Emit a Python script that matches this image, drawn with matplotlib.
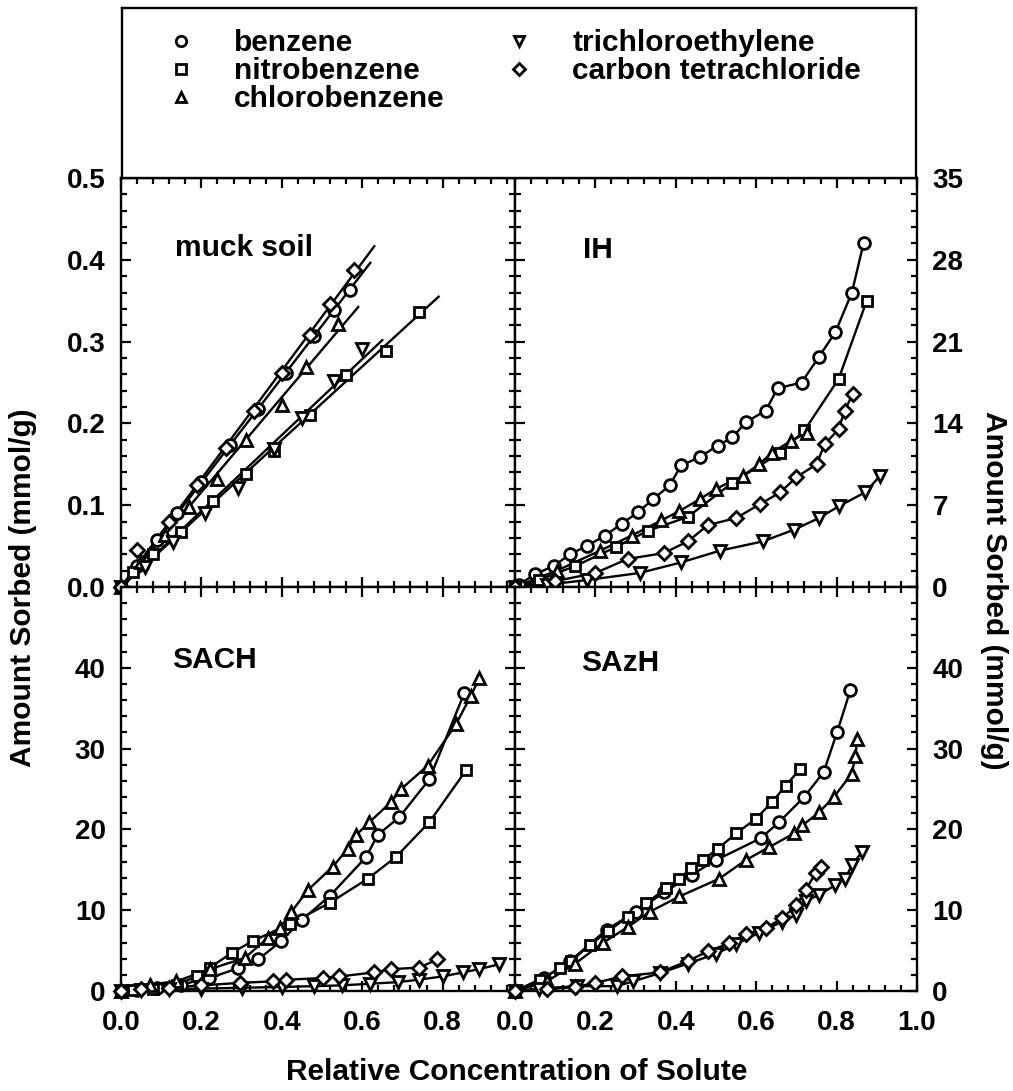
"""
sorption isotherms on muck soil and humic fractions, four panels with shared legend
outputs: out.png
"""

import numpy as np
import matplotlib.pyplot as plt
from matplotlib.lines import Line2D
from matplotlib.ticker import MultipleLocator, FixedLocator, FixedFormatter


# -- DATA (relative concentration, amount sorbed) --
compounds = ["benzene", "nitrobenzene", "chlorobenzene",
             "trichloroethylene", "carbon tetrachloride"]
markers = {"benzene": "o", "nitrobenzene": "s", "chlorobenzene": "^",
           "trichloroethylene": "v", "carbon tetrachloride": "D"}

# muck soil, mmol/g
muck_benzene_x = [0, 0.04, 0.09, 0.14, 0.20, 0.27, 0.34, 0.41, 0.48, 0.53, 0.57]
muck_benzene_y = [0, 0.026, 0.058, 0.090, 0.128, 0.173, 0.218, 0.262, 0.307, 0.339, 0.363]
muck_nitro_x = [0, 0.03, 0.08, 0.15, 0.23, 0.31, 0.38, 0.47, 0.56, 0.66, 0.74]
muck_nitro_y = [0, 0.018, 0.040, 0.067, 0.105, 0.138, 0.166, 0.210, 0.259, 0.289, 0.336]
muck_chloro_x = [0, 0.05, 0.11, 0.17, 0.24, 0.31, 0.40, 0.46, 0.54]
muck_chloro_y = [0, 0.030, 0.064, 0.098, 0.132, 0.180, 0.222, 0.269, 0.322]
muck_tce_x = [0, 0.06, 0.13, 0.21, 0.29, 0.38, 0.45, 0.53, 0.60]
muck_tce_y = [0, 0.025, 0.055, 0.090, 0.121, 0.169, 0.206, 0.252, 0.291]
muck_ct_x = [0, 0.04, 0.12, 0.19, 0.26, 0.33, 0.40, 0.47, 0.52, 0.58]
muck_ct_y = [0, 0.045, 0.080, 0.125, 0.170, 0.215, 0.262, 0.308, 0.346, 0.387]

# IH
ih_benzene_x = [0, 0.01, 0.05, 0.096, 0.137, 0.178, 0.224, 0.265, 0.306, 0.343, 0.385,
                0.413, 0.459, 0.504, 0.541, 0.574, 0.624, 0.653, 0.713, 0.756, 0.797,
                0.838, 0.867]
ih_benzene_y = [0, 0.2, 1.1, 1.8, 2.8, 3.5, 4.4, 5.4, 6.4, 7.5, 8.7, 10.4, 11.1, 12.1,
                12.8, 14.1, 15.1, 17.0, 17.5, 19.7, 21.8, 25.2, 29.4]
ih_nitro_x = [0, 0.06, 0.15, 0.25, 0.33, 0.43, 0.54, 0.66, 0.72, 0.805, 0.875]
ih_nitro_y = [0, 0.6, 1.8, 3.4, 4.8, 6.0, 8.9, 11.5, 13.4, 17.8, 24.5]
ih_chloro_x = [0, 0.104, 0.211, 0.290, 0.364, 0.409, 0.459, 0.500, 0.566, 0.607, 0.640,
               0.686, 0.727]
ih_chloro_y = [0, 1.4, 3.1, 4.4, 5.7, 6.5, 7.5, 8.4, 9.5, 10.5, 11.5, 12.5, 13.2]
ih_tce_x = [0, 0.08, 0.18, 0.31, 0.413, 0.509, 0.616, 0.694, 0.756, 0.805, 0.871, 0.908]
ih_tce_y = [0, 0.2, 0.6, 1.2, 2.1, 3.1, 3.9, 4.9, 5.9, 6.9, 8.1, 9.5]
ih_ct_x = [0, 0.10, 0.20, 0.28, 0.37, 0.43, 0.48, 0.55, 0.61, 0.66, 0.70, 0.75, 0.77,
           0.805, 0.82, 0.84]
ih_ct_y = [0, 0.5, 1.2, 2.4, 2.9, 3.9, 5.3, 5.9, 7.1, 8.1, 9.4, 10.5, 12.2, 13.5, 15.1, 16.5]

# SACH
sach_benzene_x = [0, 0.04, 0.09, 0.15, 0.22, 0.29, 0.341, 0.399, 0.45, 0.52, 0.610,
                  0.638, 0.692, 0.767, 0.854]
sach_benzene_y = [0, 0.1, 0.4, 0.8, 1.6, 2.8, 3.9, 6.2, 8.8, 11.8, 16.6, 19.3, 21.5,
                  26.2, 36.9]
sach_nitro_x = [0, 0.03, 0.08, 0.14, 0.188, 0.221, 0.275, 0.328, 0.42, 0.519, 0.614,
                0.684, 0.767, 0.858]
sach_nitro_y = [0, 0.1, 0.3, 0.8, 1.8, 2.9, 4.7, 6.2, 8.3, 10.9, 13.9, 16.6, 20.9, 27.3]
sach_chloro_x = [0, 0.072, 0.138, 0.221, 0.308, 0.366, 0.395, 0.424, 0.465, 0.527,
                 0.564, 0.585, 0.618, 0.672, 0.697, 0.763, 0.833, 0.870, 0.891]
sach_chloro_y = [0, 0.8, 1.2, 2.7, 4.1, 6.6, 7.8, 9.8, 12.5, 15.4, 17.6, 19.3, 20.9,
                 23.4, 25.0, 27.9, 33.0, 36.5, 38.7]
sach_tce_x = [0, 0.05, 0.12, 0.20, 0.30, 0.40, 0.48, 0.55, 0.62, 0.69, 0.74, 0.80,
              0.85, 0.89, 0.94]
sach_tce_y = [0, 0.1, 0.2, 0.3, 0.4, 0.5, 0.6, 0.7, 0.9, 1.1, 1.4, 1.8, 2.3, 2.7, 3.3]
sach_ct_x = [0, 0.05, 0.12, 0.20, 0.295, 0.378, 0.411, 0.502, 0.543, 0.630, 0.672,
             0.742, 0.787]
sach_ct_y = [0, 0.2, 0.4, 0.7, 1.0, 1.2, 1.4, 1.6, 1.8, 2.3, 2.7, 2.9, 3.9]

# SAzH
sazh_benzene_x = [0, 0.071, 0.137, 0.228, 0.30, 0.371, 0.44, 0.50, 0.611, 0.657,
                  0.719, 0.768, 0.801, 0.834]
sazh_benzene_y = [0, 1.6, 3.7, 7.6, 9.8, 12.2, 14.4, 16.2, 18.9, 20.9, 24.0, 27.1,
                  32.0, 37.2]
sazh_nitro_x = [0, 0.062, 0.112, 0.14, 0.186, 0.232, 0.281, 0.327, 0.376, 0.409, 0.438,
                0.467, 0.504, 0.550, 0.599, 0.640, 0.673, 0.710]
sazh_nitro_y = [0, 1.4, 2.8, 3.7, 5.7, 7.4, 9.2, 10.9, 12.7, 13.9, 15.2, 16.2, 17.6,
                19.5, 21.3, 23.4, 25.4, 27.5]
sazh_chloro_x = [0, 0.08, 0.15, 0.22, 0.28, 0.335, 0.409, 0.508, 0.574, 0.632, 0.694,
                 0.715, 0.756, 0.793, 0.838, 0.847, 0.851]
sazh_chloro_y = [0, 1.2, 3.4, 6.0, 7.9, 9.8, 11.7, 13.9, 16.2, 17.8, 19.5, 20.5, 22.1,
                 24.0, 26.9, 29.1, 31.2]
sazh_tce_x = [0, 0.06, 0.154, 0.253, 0.294, 0.36, 0.43, 0.50, 0.55, 0.607, 0.665,
              0.698, 0.723, 0.756, 0.797, 0.822, 0.838, 0.863]
sazh_tce_y = [0, 0.3, 0.6, 0.6, 1.2, 2.2, 3.4, 4.6, 5.8, 7.2, 8.6, 9.4, 11.1, 11.9,
              13.1, 13.9, 15.6, 17.2]
sazh_ct_x = [0, 0.08, 0.15, 0.20, 0.265, 0.360, 0.430, 0.479, 0.533, 0.574, 0.624,
             0.665, 0.70, 0.723, 0.748, 0.760]
sazh_ct_y = [0, 0.2, 0.5, 1.0, 1.8, 2.3, 3.7, 4.9, 5.9, 7.0, 7.8, 9.0, 10.6, 12.5,
             14.6, 15.4]

panels = {
    "muck soil": [(muck_benzene_x, muck_benzene_y), (muck_nitro_x, muck_nitro_y),
                  (muck_chloro_x, muck_chloro_y), (muck_tce_x, muck_tce_y),
                  (muck_ct_x, muck_ct_y)],
    "IH": [(ih_benzene_x, ih_benzene_y), (ih_nitro_x, ih_nitro_y),
           (ih_chloro_x, ih_chloro_y), (ih_tce_x, ih_tce_y), (ih_ct_x, ih_ct_y)],
    "SACH": [(sach_benzene_x, sach_benzene_y), (sach_nitro_x, sach_nitro_y),
             (sach_chloro_x, sach_chloro_y), (sach_tce_x, sach_tce_y),
             (sach_ct_x, sach_ct_y)],
    "SAzH": [(sazh_benzene_x, sazh_benzene_y), (sazh_nitro_x, sazh_nitro_y),
             (sazh_chloro_x, sazh_chloro_y), (sazh_tce_x, sazh_tce_y),
             (sazh_ct_x, sazh_ct_y)],
}

muck_ticks = [0.0, 0.1, 0.2, 0.3, 0.4, 0.5]
ih_ticks = [0, 7, 14, 21, 28, 35]
humic_ticks = [0, 10, 20, 30, 40]
x_ticks_left = [0.0, 0.2, 0.4, 0.6, 0.8]
x_ticks_right = [0.0, 0.2, 0.4, 0.6, 0.8, 1.0]


# -- STYLE --
FONT = "Liberation Sans"
TICK_FS = 20
TEXT_FS = 21.5
plt.rcParams["font.family"] = [FONT, "DejaVu Sans"]
plt.rcParams["font.weight"] = "bold"

W, H = 1013, 1091
fig = plt.figure(figsize=(W / 100, H / 100), dpi=100)

# panel edges in pixels
x_left, x_mid, x_right = 121, 515, 917
y_top, y_mid, y_bot = 178, 587, 991


def fx(px):
    return px / W


def fy(py):
    return 1 - py / H


ax_tl = fig.add_axes([fx(x_left), fy(y_mid), fx(x_mid - x_left), fy(y_top) - fy(y_mid)])
ax_tr = fig.add_axes([fx(x_mid), fy(y_mid), fx(x_right - x_mid), fy(y_top) - fy(y_mid)])
ax_bl = fig.add_axes([fx(x_left), fy(y_bot), fx(x_mid - x_left), fy(y_mid) - fy(y_bot)])
ax_br = fig.add_axes([fx(x_mid), fy(y_bot), fx(x_right - x_mid), fy(y_mid) - fy(y_bot)])

layout = {
    "muck soil": ax_tl, "IH": ax_tr, "SACH": ax_bl, "SAzH": ax_br,
}
label_pos = {
    "muck soil": (0.137, 0.829), "IH": (0.170, 0.824),
    "SACH": (0.130, 0.819), "SAzH": (0.165, 0.812),
}

for name, ax in layout.items():
    for comp, (xs, ys) in zip(compounds, panels[name]):
        xs = np.asarray(xs)
        ys = np.asarray(ys)
        if name == "muck soil":
            # linear isotherm through the origin, drawn a little past the data
            k = np.sum(xs * ys) / np.sum(xs * xs)
            xl = np.array([0, xs.max() + 0.05])
            ax.plot(xl, k * xl, color="black", lw=1.7, zorder=2, clip_on=False)
        else:
            ax.plot(xs, ys, color="black", lw=1.7, zorder=2, clip_on=False)
        ms = 7.5 if markers[comp] in ("s", "D") else 8.5
        ax.plot(xs, ys, ls="none", marker=markers[comp], ms=ms, mfc="white",
                mec="black", mew=2.0, zorder=3, clip_on=False)

    ax.text(*label_pos[name], name, transform=ax.transAxes, fontsize=TEXT_FS,
            fontweight="bold", va="center", ha="left")

    for side in ax.spines.values():
        side.set_linewidth(1.7)
    ax.xaxis.set_minor_locator(MultipleLocator(0.04))
    ax.tick_params(which="both", direction="in", top=True, right=True,
                   width=1.6, labelsize=TICK_FS)
    ax.tick_params(which="major", length=7.5)
    ax.tick_params(which="minor", length=4)
    ax.tick_params(axis="y", pad=11)
    ax.tick_params(axis="x", pad=14)

# x axes
for ax in (ax_tl, ax_bl):
    ax.set_xlim(0, 0.98)
    ax.xaxis.set_major_locator(FixedLocator(x_ticks_left))
for ax in (ax_tr, ax_br):
    ax.set_xlim(0, 1.0)
    ax.xaxis.set_major_locator(FixedLocator(x_ticks_right))
for ax in (ax_tl, ax_tr):
    ax.tick_params(axis="x", labelbottom=False)
ax_bl.xaxis.set_major_formatter(FixedFormatter([f"{t:.1f}" for t in x_ticks_left]))
ax_br.xaxis.set_major_formatter(FixedFormatter([f"{t:.1f}" for t in x_ticks_right]))

# y axes
ax_tl.set_ylim(0, 0.5)
ax_tl.yaxis.set_major_locator(FixedLocator(muck_ticks))
ax_tl.yaxis.set_major_formatter(FixedFormatter([f"{t:.1f}" for t in muck_ticks]))
ax_tl.yaxis.set_minor_locator(MultipleLocator(0.02))

ax_tr.set_ylim(0, 35)
ax_tr.yaxis.set_major_locator(FixedLocator(ih_ticks))
ax_tr.yaxis.set_minor_locator(MultipleLocator(1.4))

for ax in (ax_bl, ax_br):
    ax.set_ylim(0, 50)
    ax.yaxis.set_major_locator(FixedLocator(humic_ticks + [50]))
    ax.yaxis.set_major_formatter(FixedFormatter([str(t) for t in humic_ticks] + [""]))
    ax.yaxis.set_minor_locator(MultipleLocator(2))

for ax in (ax_tr, ax_br):
    ax.tick_params(axis="y", labelleft=False, labelright=True)

# axis titles
fig.text(fx(23), fy(588), "Amount Sorbed (mmol/g)", rotation=90, ha="center",
         va="center", fontsize=TEXT_FS, fontweight="bold")
fig.text(fx(994), fy(590), "Amount Sorbed (mmol/g)", rotation=270, ha="center",
         va="center", fontsize=TEXT_FS, fontweight="bold")
fig.text(fx(517), fy(1072), "Relative Concentration of Solute", ha="center",
         va="center", fontsize=TEXT_FS, fontweight="bold")

# legend box above the panels
ax_leg = fig.add_axes([fx(122), fy(y_top), fx(916 - 122), fy(8) - fy(y_top)])
ax_leg.set_xticks([])
ax_leg.set_yticks([])
for side in ax_leg.spines.values():
    side.set_linewidth(1.7)

handles = [
    Line2D([], [], ls="none", marker=markers[c], ms=6.5 if markers[c] in ("s", "D") else 7.5,
           mfc="white", mec="black", mew=2.0, label=c)
    for c in compounds
]
ax_leg.legend(handles=handles, ncol=2, loc="upper left", bbox_to_anchor=(0.037, 0.963),
              frameon=False, borderpad=0, handlelength=1.0, handletextpad=1.27,
              columnspacing=2.0, labelspacing=0.0,
              prop={"family": FONT, "weight": "bold", "size": TEXT_FS})

fig.savefig("out.png", dpi=100)
